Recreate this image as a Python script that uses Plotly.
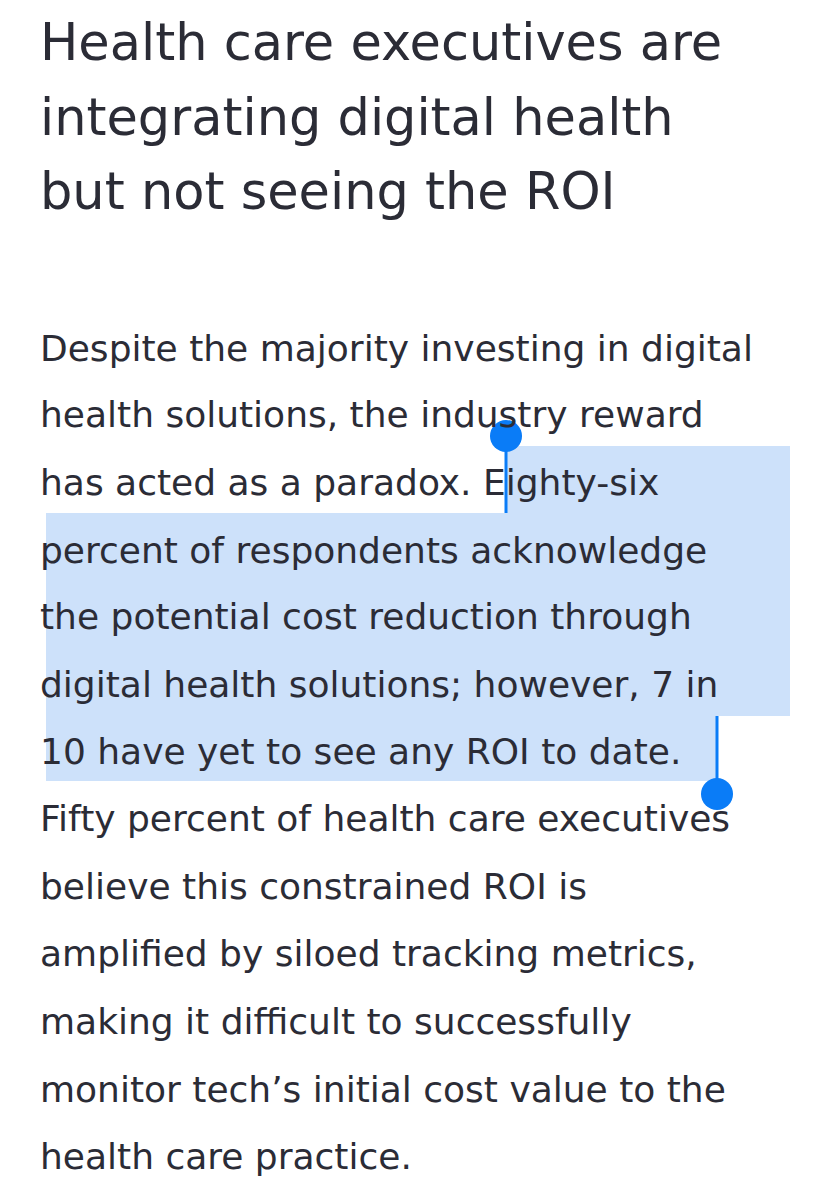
import plotly.graph_objects as go

title_lines = ["Health care executives are",
               "integrating digital health",
               "but not seeing the ROI"]
title_y = [42, 117, 191]

body_lines = ["Despite the majority investing in digital",
              "health solutions, the industry reward",
              "has acted as a paradox. Eighty-six",
              "percent of respondents acknowledge",
              "the potential cost reduction through",
              "digital health solutions; however, 7 in",
              "10 have yet to see any ROI to date.",
              "Fifty percent of health care executives",
              "believe this constrained ROI is",
              "amplified by siloed tracking metrics,",
              "making it difficult to successfully",
              "monitor tech\u2019s initial cost value to the",
              "health care practice."]
body_y = [347, 413, 481, 549, 615, 683, 750, 817, 885, 952, 1020, 1088, 1155]

# selection highlight rows: (x0, x1, y0, y1)
sel_rows = [(497, 782, 438, 505), (38, 782, 505, 708), (38, 708, 708, 773)]

ink = "#2b2c36"
blue = "#0a7cf7"
fig = go.Figure()
shapes = []
for x0, x1, y0, y1 in sel_rows:
    shapes.append(dict(type="rect", x0=x0, x1=x1, y0=y0, y1=y1, fillcolor="#cde1fa",
                       line_width=0, layer="below"))
shapes += [
    dict(type="line", x0=498, x1=498, y0=428, y1=505, line=dict(color=blue, width=3)),
    dict(type="circle", x0=482, x1=514, y0=412, y1=444, fillcolor=blue, line_width=0),
    dict(type="line", x0=709, x1=709, y0=708, y1=775, line=dict(color=blue, width=3)),
    dict(type="circle", x0=693, x1=725, y0=770, y1=802, fillcolor=blue, line_width=0),
]
ann = []
for t, y in zip(title_lines, title_y):
    ann.append(dict(x=30, y=y - 8, text=t, showarrow=False, xanchor="left", yanchor="middle",
                    font=dict(size=51, color=ink, family="DejaVu Sans")))
for t, y in zip(body_lines, body_y):
    ann.append(dict(x=30, y=y - 7, text=t, showarrow=False, xanchor="left", yanchor="middle",
                    font=dict(size=36, color=ink, family="DejaVu Sans")))
fig.update_layout(width=820, height=1200, margin=dict(l=0, r=0, t=0, b=0),
                  plot_bgcolor="white", paper_bgcolor="white",
                  xaxis=dict(range=[0, 820], visible=False, fixedrange=True),
                  yaxis=dict(range=[1200, 0], visible=False, fixedrange=True),
                  shapes=shapes, annotations=ann, showlegend=False)
fig.write_html("out.html")
